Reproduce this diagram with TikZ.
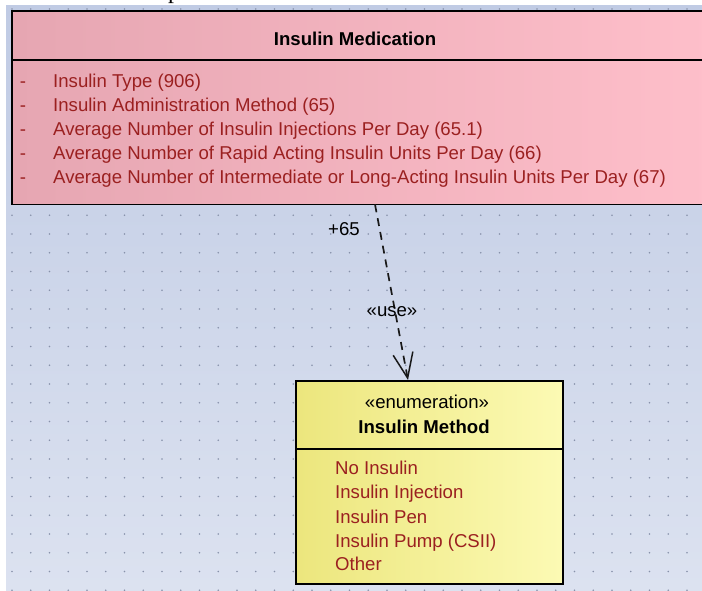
\documentclass[tikz,border=0pt]{standalone}
\usepackage{fontspec}
\setmainfont{Liberation Sans}
\newfontfamily\fragserif{Liberation Serif}
\usetikzlibrary{arrows.meta,calc}
\definecolor{bgtop}{RGB}{192,203,228}
\definecolor{bgbot}{RGB}{220,226,240}
\definecolor{griddot}{RGB}{135,145,170}
\definecolor{pinkL}{RGB}{230,166,178}
\definecolor{pinkR}{RGB}{255,192,203}
\definecolor{yelL}{RGB}{236,230,125}
\definecolor{yelR}{RGB}{252,250,180}
\definecolor{attr}{RGB}{155,32,32}
\tikzset{
  txt/.style={inner sep=0pt, font=\fontsize{18.6}{22}\selectfont},
  ttl/.style={inner sep=0pt, font=\fontsize{18.6}{22}\selectfont\bfseries},
  attrtxt/.style={txt, text=attr, anchor=base west},
  bullet/.style={txt, text=attr, anchor=base},
  classbox/.style={draw=black, line width=1.5pt, inner sep=0pt, anchor=north west},
  openbox/.style={inner sep=0pt, anchor=north west},
  border/.style={draw=black, line width=1.5pt},
  divider/.style={draw=black, line width=1.2pt},
  usedep/.style={draw=black!90, line width=1.7pt, dash pattern=on 8pt off 6pt,
    -{Straight Barb[length=25pt,width=20pt,line width=1.5pt]}},
}
\begin{document}
\begin{tikzpicture}[x=1pt,y=-1pt]
\useasboundingbox (0,0) rectangle (702,590);
\clip (0,0) rectangle (702,590);
\fill[white] (0,0) rectangle (702,590);
\shade[top color=bgtop, bottom color=bgbot] (6,5) rectangle (702,590);
\foreach \i in {0,...,36}{
  \foreach \j in {0,...,31}{
    \fill[griddot] ({12+18.75*\i},{9+18.75*\j}) circle[radius=0.9pt];
  }
}
% cropped text fragment at top
\node[anchor=base west, inner sep=0pt, font=\fragserif\fontsize{24}{28}\selectfont] (frag) at (168,-1.5) {p};

% Insulin Medication class (runs past the right edge)
\node[openbox, minimum width=730pt, minimum height=193pt] (med) at (12,11) {};
\shade[left color=pinkL, right color=pinkR] (med.north west) rectangle (med.south east);
\draw[border] (med.north east) -- (med.north west) -- (med.south west) -- (med.south east);
\draw[divider] (med.west |- 0,60) -- (med.east |- 0,60);
\node[ttl, anchor=base] (medtitle) at (355,45) {Insulin Medication};
\node[bullet] (b1) at (23,87) {-};
\node[bullet] (b2) at (23,111) {-};
\node[bullet] (b3) at (23,135) {-};
\node[bullet] (b4) at (23,159) {-};
\node[bullet] (b5) at (23,183) {-};
\node[attrtxt] (a1) at (53,87) {Insulin Type (906)};
\node[attrtxt] (a2) at (53,111) {Insulin Administration Method (65)};
\node[attrtxt] (a3) at (53,135) {Average Number of Insulin Injections Per Day (65.1)};
\node[attrtxt] (a4) at (53,159) {Average Number of Rapid Acting Insulin Units Per Day (66)};
\node[attrtxt] (a5) at (53,183) {Average Number of Intermediate or Long-Acting Insulin Units Per Day (67)};

% Insulin Method enumeration
\node[classbox, minimum width=267pt, minimum height=203pt, left color=yelL, right color=yelR] (enum) at (295,380) {};
\draw[divider] (enum.west |- 0,449) -- (enum.east |- 0,449);
\node[txt, anchor=base] (stereo) at (427,408) {«enumeration»};
\node[ttl, anchor=base] (enumtitle) at (424,433) {Insulin Method};
\node[attrtxt] (e1) at (335,474) {No Insulin};
\node[attrtxt] (e2) at (335,498) {Insulin Injection};
\node[attrtxt] (e3) at (335,523) {Insulin Pen};
\node[attrtxt] (e4) at (335,547) {Insulin Pump (CSII)};
\node[attrtxt] (e5) at (335,570) {Other};

% dependency
\coordinate (cs) at ($(med.south west)+(363,0)$);
\coordinate (ce) at ($(enum.north west)+(113,0)$);
\draw[usedep] (cs) -- (ce);
\node[txt, anchor=base west] (lbl65) at (328,235) {+65};
\node[txt, anchor=base] (lbluse) at (392,316) {«use»};
\end{tikzpicture}
\end{document}
